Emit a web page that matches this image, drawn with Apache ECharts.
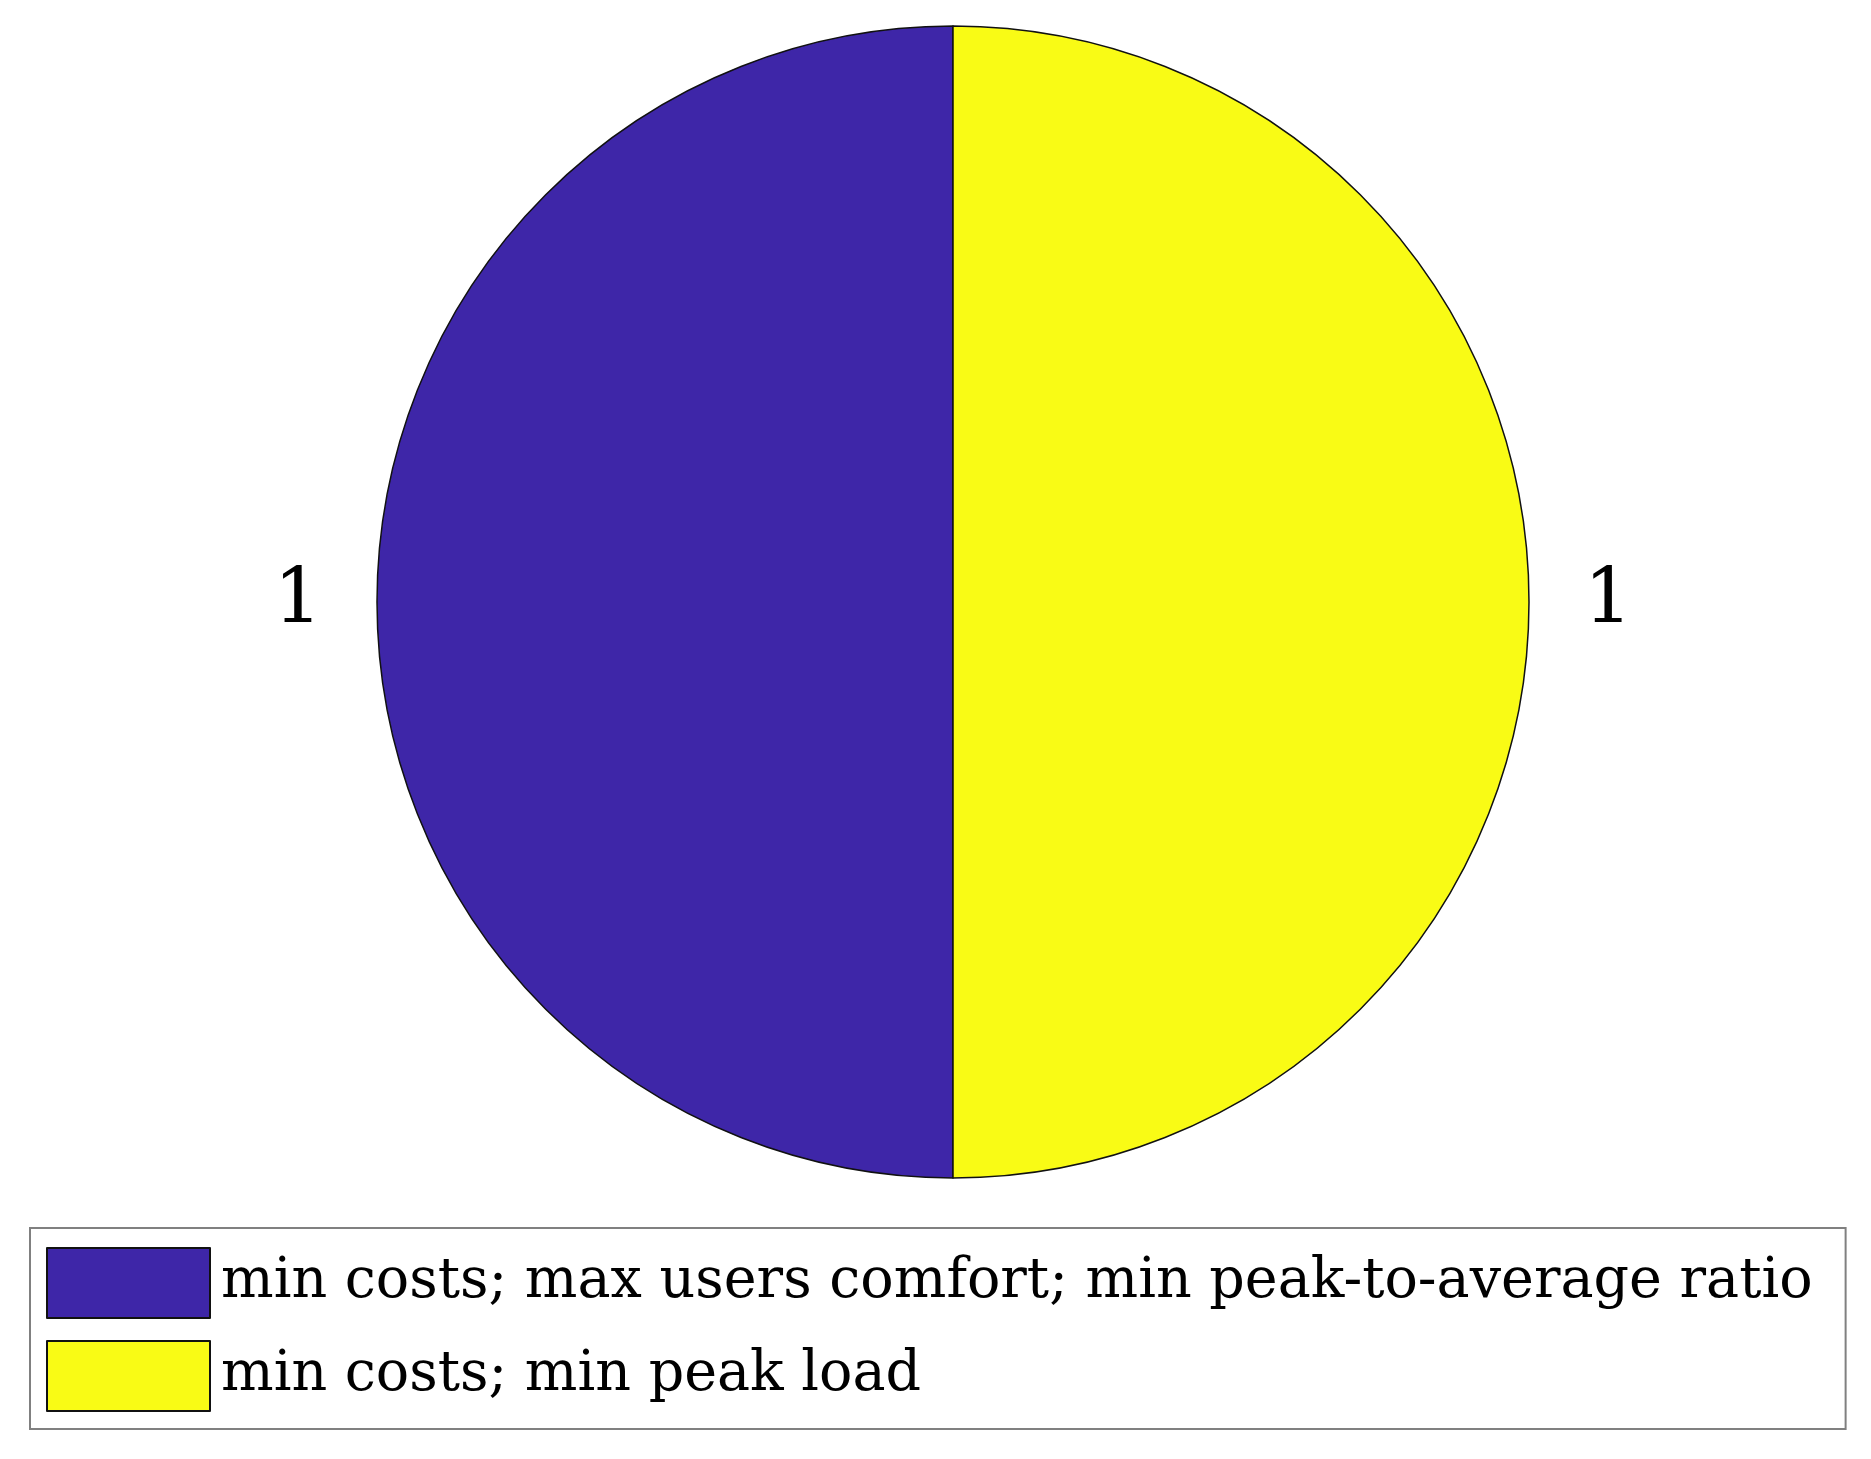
<!DOCTYPE html>
<html>
<head>
<meta charset="utf-8">
<script src="https://cdn.jsdelivr.net/npm/echarts@6/dist/echarts.min.js"></script>
<style>
  html, body { margin: 0; padding: 0; background: #fff; }
  #chart { width: 1871px; height: 1459px; }
</style>
</head>
<body>
<div id="chart"></div>
<script>
const categories = [
  'min costs; max users comfort; min peak-to-average ratio',
  'min costs; min peak load'
];
const counts = [1, 1];
const colors = ['#3E26A8', '#F9FB15'];

const chart = echarts.init(document.getElementById('chart'));
const fontFamily = '"DejaVu Serif", serif';

const option = {
  backgroundColor: '#fff',
  animation: false,
  color: colors,
  legend: {
    orient: 'vertical',
    left: 30,
    top: 1228,
    padding: [19, 33, 17, 16],
    itemWidth: 163,
    itemHeight: 70,
    itemGap: 21,
    icon: 'rect',
    borderColor: '#808080',
    borderWidth: 2,
    borderRadius: 0,
    selectedMode: false,
    textStyle: {
      fontFamily: fontFamily,
      fontSize: 55.5,
      color: '#000',
      padding: [0, 0, 0, 6]
    },
    data: categories
  },
  series: [
    {
      type: 'pie',
      center: [953, 602],
      radius: 576,
      startAngle: 90,
      clockwise: false,
      silent: true,
      itemStyle: {
        borderColor: '#111',
        borderWidth: 1.5
      },
      label: {
        show: true,
        position: 'outside',
        formatter: '{c}',
        fontFamily: fontFamily,
        fontSize: 76,
        color: '#000',
        padding: [0, 0, 14, 0]
      },
      labelLine: { show: false, length: 30, length2: 20 },
      data: categories.map((name, i) => ({ name: name, value: counts[i] }))
    }
  ]
};

chart.setOption(option);
</script>
</body>
</html>
